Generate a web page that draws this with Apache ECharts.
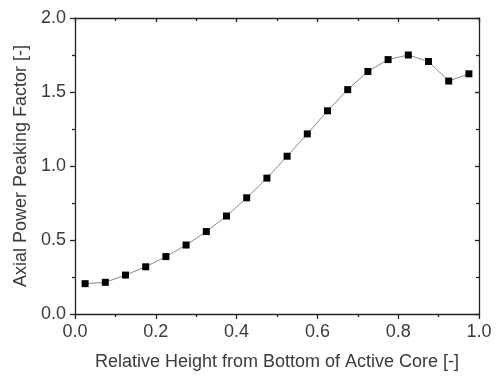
<!DOCTYPE html>
<html>
<head>
<meta charset="utf-8">
<script src="https://cdn.jsdelivr.net/npm/echarts@6/dist/echarts.min.js"></script>
<style>html,body{margin:0;padding:0;background:#fff;}#c{width:499px;height:376px;}</style>
</head>
<body>
<div id="c"></div>
<script>
var heights = [0.025,0.075,0.125,0.175,0.225,0.275,0.325,0.375,0.425,0.475,0.525,0.575,0.625,0.675,0.725,0.775,0.825,0.875,0.925,0.975];
var peaking = [0.205,0.214,0.263,0.319,0.388,0.466,0.557,0.662,0.785,0.918,1.066,1.217,1.373,1.516,1.639,1.719,1.750,1.706,1.574,1.623];
var xTitle = 'Relative Height from Bottom of Active Core [-]';
var yTitle = 'Axial Power Peaking Factor [-]';

var font = 'Liberation Sans, Arial, sans-serif';
var textColor = '#3a3a3a';
var chart = echarts.init(document.getElementById('c'), null, {renderer:'canvas'});
var lineStyle = {color:'#222', width:1.3};
chart.setOption({
  animation:false,
  backgroundColor:'#fff',
  grid:{left:75, right:20, top:18, bottom:60},
  xAxis:[{
    type:'value', min:0, max:1, interval:0.2, position:'bottom',
    axisLine:{show:true, onZero:false, lineStyle:lineStyle},
    axisTick:{show:true, inside:false, length:5, lineStyle:lineStyle},
    minorTick:{show:true, splitNumber:2, length:3, lineStyle:lineStyle},
    splitLine:{show:false},
    axisLabel:{fontFamily:font, fontSize:18, color:textColor, margin:9, formatter:function(v){return v.toFixed(1);}},
    name:xTitle, nameLocation:'middle', nameGap:39,
    nameTextStyle:{fontFamily:font, fontSize:18, color:textColor}
  },{
    type:'value', min:0, max:1, interval:0.2, position:'top',
    axisLine:{show:true, onZero:false, lineStyle:lineStyle},
    axisTick:{show:true, inside:true, length:4, lineStyle:lineStyle},
    minorTick:{show:true, splitNumber:2, length:3, lineStyle:lineStyle},
    splitLine:{show:false},
    axisLabel:{show:false}
  }],
  yAxis:[{
    type:'value', min:0, max:2, interval:0.5, position:'left',
    axisLine:{show:true, onZero:false, lineStyle:lineStyle},
    axisTick:{show:true, inside:false, length:5, lineStyle:lineStyle},
    minorTick:{show:true, splitNumber:2, length:3, lineStyle:lineStyle},
    splitLine:{show:false},
    axisLabel:{fontFamily:font, fontSize:18, color:textColor, margin:9, formatter:function(v){return v.toFixed(1);}},
    name:yTitle, nameLocation:'middle', nameGap:45, nameRotate:90,
    nameTextStyle:{fontFamily:font, fontSize:18, color:textColor}
  },{
    type:'value', min:0, max:2, interval:0.5, position:'right',
    axisLine:{show:true, onZero:false, lineStyle:lineStyle},
    axisTick:{show:true, inside:true, length:4, lineStyle:lineStyle},
    minorTick:{show:true, splitNumber:2, length:3, lineStyle:lineStyle},
    splitLine:{show:false},
    axisLabel:{show:false}
  }],
  series:[{
    type:'line',
    xAxisIndex:0, yAxisIndex:0,
    data:heights.map(function(h,i){return [h, peaking[i]];}),
    symbol:'rect', symbolSize:7,
    itemStyle:{color:'#000'},
    lineStyle:{color:'#8a8a8a', width:1},
    smooth:false
  }]
});
</script>
</body>
</html>
